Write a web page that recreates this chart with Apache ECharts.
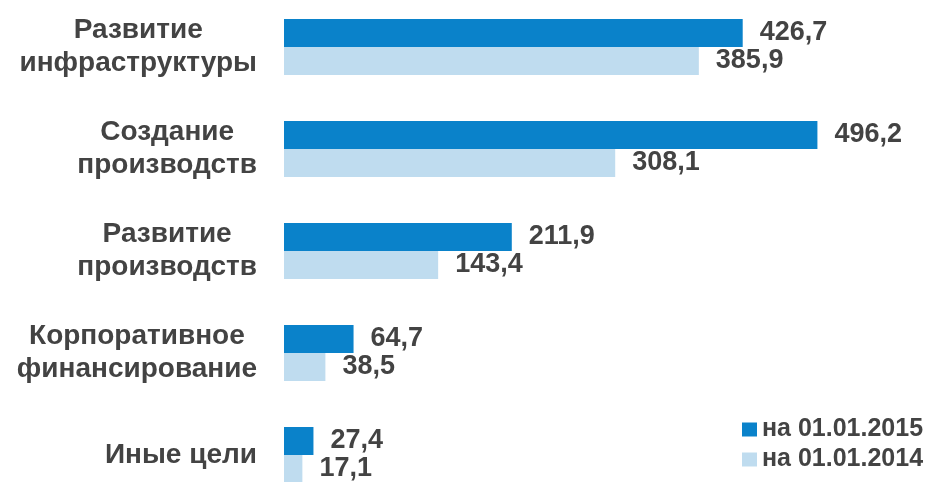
<!DOCTYPE html>
<html>
<head>
<meta charset="utf-8">
<script src="https://cdn.jsdelivr.net/npm/echarts@6/dist/echarts.min.js"></script>
<style>
html,body{margin:0;padding:0;background:#fff;}
#chart{width:933px;height:482px;}
</style>
</head>
<body>
<div id="chart"></div>
<script>
var categories = ["Развитие\nинфраструктуры", "Создание\nпроизводств", "Развитие\nпроизводств", "Корпоративное\nфинансирование", "Иные цели"];
var seriesNames = ["на 01.01.2015", "на 01.01.2014"];
var values2015 = [426.7, 496.2, 211.9, 64.7, 27.4];
var values2014 = [385.9, 308.1, 143.4, 38.5, 17.1];

var chart = echarts.init(document.getElementById('chart'));
var textColor = '#434343';
var font = 'Liberation Sans, Arial, sans-serif';

function valueLabel() {
  return {
    show: true,
    position: 'right',
    distance: 17,
    color: textColor,
    fontSize: 27,
    fontWeight: 'bold',
    fontFamily: font,
    formatter: function (p) { return String(p.value).replace('.', ','); }
  };
}

chart.setOption({
  animation: false,
  backgroundColor: '#ffffff',
  grid: { left: 284, top: 47, width: 645, bottom: 27, containLabel: false },
  xAxis: { type: 'value', min: 0, max: 600, show: false, splitLine: { show: false } },
  yAxis: {
    type: 'category',
    inverse: true,
    boundaryGap: false,
    data: categories,
    axisLine: { show: false },
    axisTick: { show: false },
    splitLine: { show: false },
    axisLabel: {
      margin: 27,
      formatter: function (v) {
        return v.split('\n').map(function (s) { return '{c|' + s + '}'; }).join('\n');
      },
      rich: {
        c: {
          align: 'center',
          fontSize: 28,
          fontWeight: 'bold',
          fontFamily: font,
          color: textColor,
          lineHeight: 33
        }
      }
    }
  },
  legend: {
    orient: 'vertical',
    left: 737,
    top: 412,
    itemWidth: 15,
    itemHeight: 14,
    itemGap: 5,
    icon: 'rect',
    textStyle: { color: textColor, fontSize: 25, fontWeight: 'bold', fontFamily: font, lineHeight: 24 },
    data: seriesNames
  },
  series: [
    {
      name: seriesNames[0],
      type: 'bar',
      data: values2015,
      barWidth: 28,
      barGap: '0%',
      itemStyle: { color: '#0a82ca' },
      label: valueLabel()
    },
    {
      name: seriesNames[1],
      type: 'bar',
      data: values2014,
      barWidth: 28,
      barGap: '0%',
      itemStyle: { color: '#bfdcef' },
      label: valueLabel()
    }
  ]
});
</script>
</body>
</html>
